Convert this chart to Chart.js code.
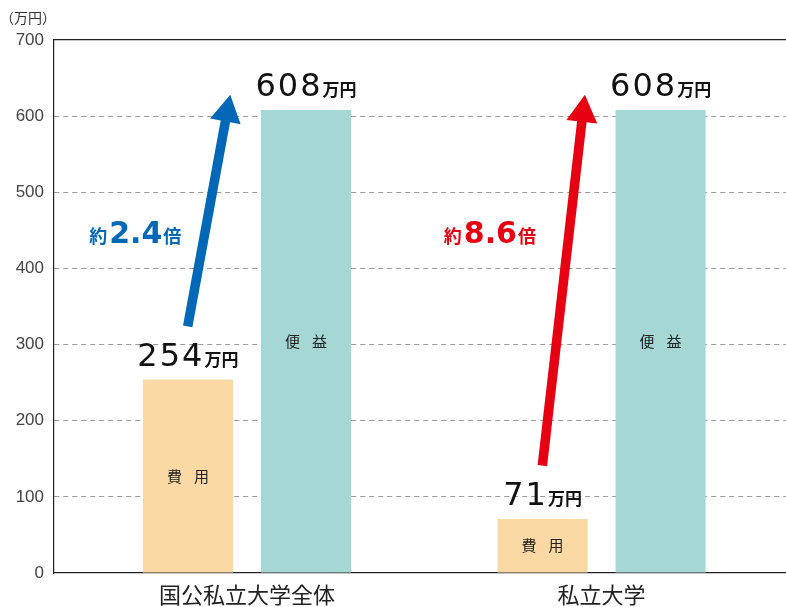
<!DOCTYPE html>
<html>
<head>
<meta charset="utf-8">
<script src="https://cdn.jsdelivr.net/npm/chart.js@4.4.1/dist/chart.umd.min.js"></script>
<style>
  html, body { margin: 0; padding: 0; background: #fff; }
</style>
</head>
<body>
<canvas id="myChart" width="786" height="607"></canvas>
<script>
var categories = ['国公私立大学全体', '私立大学']
var costs = [254, 71]
var benefits = [608, 608]
var seriesNames = ['費用', '便益']
var ratios = ['2.4', '8.6']
var ratioColors = ['#0068b7', '#e60012']
var yTicks = [0, 100, 200, 300, 400, 500, 600, 700]
var unit = '万円'
var axisUnit = '（万円）'

var JP = '"Noto Sans CJK JP", sans-serif'
var NUM = '"DejaVu Sans", sans-serif'
var TICK = '"Liberation Sans", Arial, sans-serif'

function drawArrow(ctx, x1, y1, x2, y2, color) {
    var ang = Math.atan2(y2 - y1, x2 - x1)
    var headLen = 27, headW = 15.5
    var bx = x2 - headLen * Math.cos(ang)
    var by = y2 - headLen * Math.sin(ang)
    ctx.save()
    ctx.strokeStyle = color
    ctx.fillStyle = color
    ctx.lineWidth = 9.5
    ctx.lineCap = 'butt'
    ctx.beginPath()
    ctx.moveTo(x1, y1)
    ctx.lineTo(bx + 2 * Math.cos(ang), by + 2 * Math.sin(ang))
    ctx.stroke()
    var px = -Math.sin(ang), py = Math.cos(ang)
    ctx.beginPath()
    ctx.moveTo(x2, y2)
    ctx.lineTo(bx + px * headW, by + py * headW)
    ctx.lineTo(bx - px * headW, by - py * headW)
    ctx.closePath()
    ctx.fill()
    ctx.restore()
}

// labels, arrows and ratios drawn on top of the bars
var notes = {
    id: 'notes',
    afterDatasetsDraw: function(chart) {
        var ctx = chart.ctx
        var xs = chart.scales.x
        var ys = chart.scales.y
        ctx.save()

        // unit at the top of the y axis
        ctx.fillStyle = '#333'
        ctx.font = '14px ' + JP
        ctx.textAlign = 'left'
        ctx.textBaseline = 'middle'
        ctx.fillText(axisUnit, 0, 18)

        chart.data.datasets.forEach(function(ds, di) {
            var meta = chart.getDatasetMeta(di)
            meta.data.forEach(function(bar, i) {
                var xc = bar.x
                var top = bar.y
                // value above bar
                var num = String(ds.data[i].y)
                ctx.textAlign = 'left'
                ctx.textBaseline = 'alphabetic'
                ctx.font = '32px ' + NUM
                ctx.letterSpacing = '2px'
                var w1 = ctx.measureText(num).width
                ctx.font = 'bold 17px ' + JP
                ctx.letterSpacing = '0px'
                var w2 = ctx.measureText(unit).width
                var x0 = xc - (w1 + w2) / 2
                ctx.fillStyle = '#111'
                ctx.font = '32px ' + NUM
                ctx.letterSpacing = '2px'
                ctx.fillText(num, x0, top - 14)
                ctx.font = 'bold 17px ' + JP
                ctx.letterSpacing = '0px'
                ctx.fillText(unit, x0 + w1, top - 14)

                // name inside bar
                var mid = (top + bar.base) / 2
                var chars = ds.label.split('')
                ctx.font = '15px ' + JP
                ctx.textAlign = 'center'
                ctx.textBaseline = 'middle'
                ctx.fillStyle = '#222'
                chars.forEach(function(c, k) {
                    ctx.fillText(c, xc + (k - (chars.length - 1) / 2) * 27, mid)
                })
            })
        })

        // arrows from cost to benefit, with the ratio text
        categories.forEach(function(c, i) {
            var color = ratioColors[i]
            drawArrow(ctx,
                xs.getPixelForValue(i - 0.167), ys.getPixelForValue(costs[i] + 70),
                xs.getPixelForValue(i - 0.047), ys.getPixelForValue(benefits[i] + 20),
                color)

            var cx = xs.getPixelForValue(i - 0.315)
            var base = ys.getPixelForValue(433)
            ctx.fillStyle = color
            ctx.textAlign = 'left'
            ctx.textBaseline = 'alphabetic'
            ctx.letterSpacing = '0px'
            ctx.font = 'bold 18px ' + JP
            var wa = ctx.measureText('約').width
            var wc = ctx.measureText('倍').width
            ctx.font = 'bold 30px ' + NUM
            var wb = ctx.measureText(ratios[i]).width
            var x = cx - (wa + wb + wc + 3) / 2
            ctx.font = 'bold 18px ' + JP
            ctx.fillText('約', x, base)
            ctx.font = 'bold 30px ' + NUM
            ctx.fillText(ratios[i], x + wa + 2, base)
            ctx.font = 'bold 18px ' + JP
            ctx.fillText('倍', x + wa + 3 + wb, base)
        })
        ctx.restore()
    }
}

new Chart('myChart', {
    type: 'bar',
    data: {
        datasets: [{
            label: seriesNames[0],
            data: costs.map(function(v, i) { return {x: i, y: v} }),
            backgroundColor: '#fad8a3'
        }, {
            label: seriesNames[1],
            data: benefits.map(function(v, i) { return {x: i, y: v} }),
            backgroundColor: '#a5d8d4'
        }]
    },
    options: {
        responsive: false,
        animation: false,
        categoryPercentage: 0.6657,
        barPercentage: 0.763,
        layout: { padding: { top: 40, left: 0, right: 0, bottom: 0 } },
        plugins: {
            legend: { display: false },
            tooltip: { enabled: false }
        },
        scales: {
            x: {
                type: 'linear',
                min: -0.544,
                max: 1.52,
                offset: false,
                afterBuildTicks: function(scale) {
                    scale.ticks = categories.map(function(c, i) { return {value: i} })
                },
                afterFit: function(scale) { scale.height = 34 },
                ticks: {
                    callback: function(v) { return categories[v] },
                    font: { family: JP, size: 22, lineHeight: 1 },
                    color: '#222',
                    padding: 3,
                    maxRotation: 0,
                    autoSkip: false
                },
                grid: { display: false },
                border: { color: '#222', width: 1.2 }
            },
            x2: {
                type: 'linear',
                position: 'top',
                ticks: { display: false },
                grid: { display: false },
                afterFit: function(scale) { scale.height = 0 },
                border: { color: '#222', width: 1.2 }
            },
            y: {
                min: 0,
                max: 700,
                afterBuildTicks: function(scale) {
                    scale.ticks = yTicks.map(function(v) { return {value: v} })
                },
                afterFit: function(scale) { scale.width = 54 },
                ticks: {
                    font: { family: TICK, size: 17 },
                    color: '#444',
                    padding: 10
                },
                grid: {
                    drawTicks: false,
                    lineWidth: 1,
                    color: function(c) {
                        var v = c.tick && c.tick.value
                        return (v === 0 || v === 700) ? 'rgba(0,0,0,0)' : '#9a9a9a'
                    }
                },
                border: { color: '#222', width: 1.2, dash: [5, 4] }
            }
        }
    },
    plugins: [notes]
});
</script>
</body>
</html>
